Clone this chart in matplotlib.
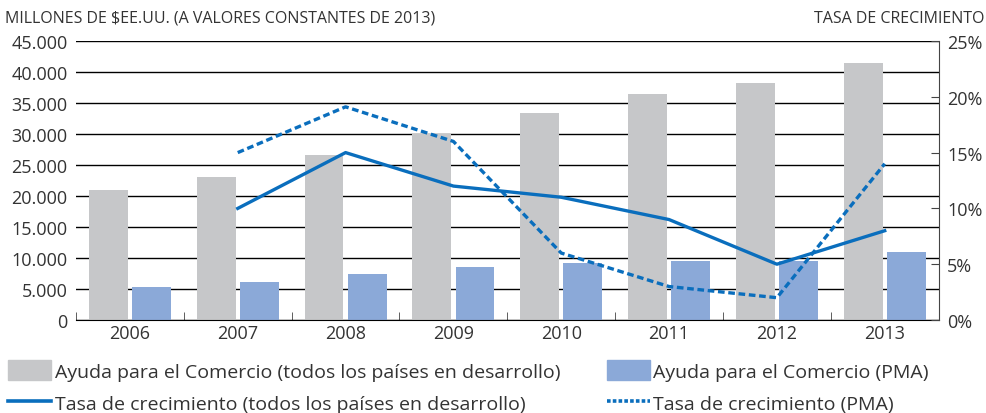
import matplotlib.pyplot as plt
import numpy as np
from matplotlib.lines import Line2D
from matplotlib.patches import Patch
from matplotlib.ticker import FuncFormatter

plt.rcParams["font.family"] = ["Open Sans", "DejaVu Sans"]

anios = ["2006", "2007", "2008", "2009", "2010", "2011", "2012", "2013"]
ayuda_todos = [21000, 23000, 26600, 30000, 33400, 36500, 38200, 41500]
ayuda_pma = [5300, 6100, 7400, 8500, 9200, 9500, 9500, 11000]
tasa_todos = [np.nan, 10.0, 15.0, 12.0, 11.0, 9.0, 5.0, 8.0]
tasa_pma = [np.nan, 15.0, 19.1, 16.0, 6.0, 3.0, 2.0, 14.0]

gris = "#C6C7C9"
azul_claro = "#8BA9D8"
azul = "#0A6EBD"
texto = "#333333"

fig = plt.figure(figsize=(9.87, 4.14), dpi=100)
ax = fig.add_axes([0.077, 0.2246, 0.874, 0.674])
x = np.arange(len(anios))
w = 0.36
ax.bar(x - 0.2, ayuda_todos, w, color=gris, zorder=2)
ax.bar(x + 0.2, ayuda_pma, w, color=azul_claro, zorder=2)

ax.set_xlim(-0.5, len(anios) - 0.5)
ax.set_ylim(0, 45000)
ax.set_yticks(np.arange(0, 45001, 5000))
ax.yaxis.set_major_formatter(FuncFormatter(lambda v, p: f"{int(v):,}".replace(",", ".")))
ax.yaxis.grid(True, color="black", linewidth=1.0, zorder=0)
ax.set_axisbelow(True)
ax.set_xticks(x)
ax.set_xticklabels(anios)
ax.set_xticks(np.arange(-0.5, len(anios)), minor=True)
ax.tick_params(axis="x", which="major", length=0, labelsize=13, colors=texto, pad=3)
ax.tick_params(axis="x", which="minor", length=6, direction="in", color="#444444")
ax.tick_params(axis="y", length=0, labelsize=13, colors=texto, pad=6)
for s in ["left", "top", "right"]:
    ax.spines[s].set_visible(False)
ax.spines["bottom"].set_color("black")
ax.spines["bottom"].set_zorder(3)

ax2 = ax.twinx()
ax2.plot(x, tasa_todos, color=azul, linewidth=2.4, zorder=4)
ax2.plot(x, tasa_pma, color=azul, linewidth=2.4, dashes=(2.0, 1.1), zorder=4)
ax2.set_ylim(0, 25)
ax2.set_yticks(np.arange(0, 26, 5))
ax2.yaxis.set_major_formatter(FuncFormatter(lambda v, p: f"{int(v)}%"))
ax2.tick_params(axis="y", length=6, direction="in", labelsize=13, colors=texto, pad=6)
ax2.tick_params(axis="y", color="#444444")
for s in ["left", "top", "bottom"]:
    ax2.spines[s].set_visible(False)
ax2.spines["right"].set_color("#444444")

fig.text(0.005, 0.955, "MILLONES DE $EE.UU. (A VALORES CONSTANTES DE 2013)",
         fontsize=11.5, color=texto, va="center", ha="left")
fig.text(0.997, 0.955, "TASA DE CRECIMIENTO",
         fontsize=11.5, color=texto, va="center", ha="right")

handles = [
    Patch(color=gris, label="Ayuda para el Comercio (todos los países en desarrollo)"),
    Patch(color=azul_claro, label="Ayuda para el Comercio (PMA)"),
    Line2D([], [], color=azul, linewidth=2.6, label="Tasa de crecimiento (todos los países en desarrollo)"),
    Line2D([], [], color=azul, linewidth=2.6, dashes=(1.0, 0.6), label="Tasa de crecimiento (PMA)"),
]
leg = fig.legend(handles=[handles[0], handles[2], handles[1], handles[3]], ncol=2,
                 loc="upper left", bbox_to_anchor=(0.008, 0.127), frameon=False,
                 fontsize=14, handlelength=2.2, handleheight=1.2, handletextpad=0.2,
                 columnspacing=2.4, labelspacing=0.6, borderaxespad=0.0, borderpad=0.0)
for t in leg.get_texts():
    t.set_color(texto)

fig.savefig("out.png", dpi=100)
